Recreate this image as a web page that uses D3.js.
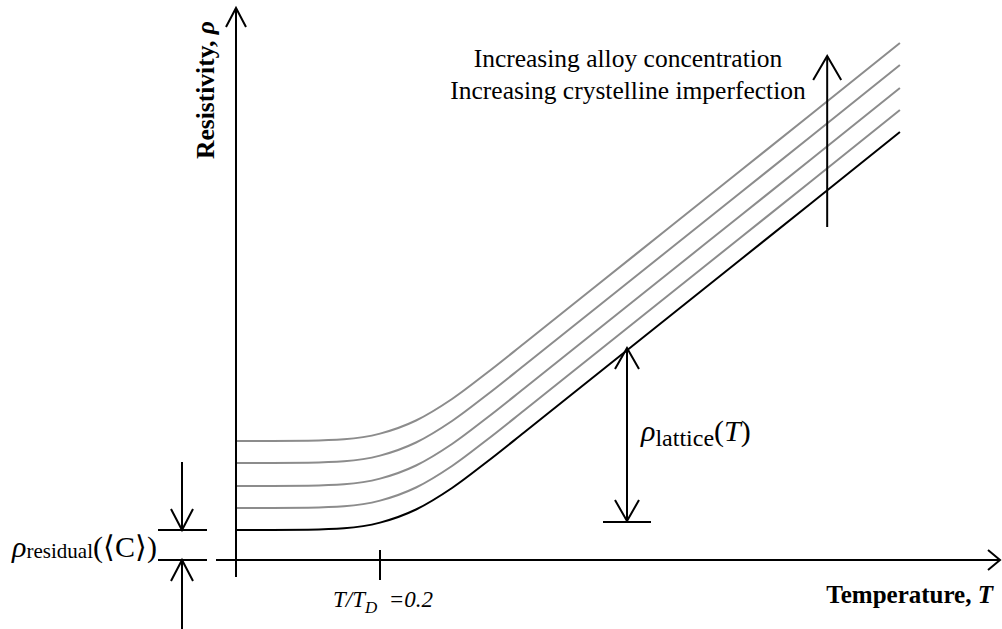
<!DOCTYPE html>
<html>
<head>
<meta charset="utf-8">
<script src="https://cdn.jsdelivr.net/npm/d3@7/dist/d3.min.js"></script>
<style>
  html, body { margin: 0; padding: 0; background: #fff; }
  svg { display: block; }
  text { font-family: "Liberation Serif", "Times New Roman", serif; fill: #000; }
</style>
</head>
<body>
<svg id="chart" width="1002" height="629"></svg>
<script>
// ---- data ----
const tRatio   = [0, 0.05, 0.1, 0.15, 0.2, 0.25, 0.3, 0.35, 0.4, 0.5, 0.6, 0.7, 0.8, 0.922];
const rhoPure   = [3.0, 3.0, 3.03, 3.17, 3.74, 5.05, 7.2, 9.9, 12.75, 18.5, 24.25, 30.0, 35.75, 42.8];
const rhoAlloy1 = [5.2, 5.2, 5.23, 5.37, 5.94, 7.25, 9.4, 12.1, 14.95, 20.7, 26.45, 32.2, 37.95, 45.0];
const rhoAlloy2 = [7.4, 7.4, 7.43, 7.57, 8.14, 9.45, 11.6, 14.3, 17.15, 22.9, 28.65, 34.4, 40.15, 47.2];
const rhoAlloy3 = [9.7, 9.7, 9.73, 9.87, 10.44, 11.75, 13.9, 16.6, 19.45, 25.2, 30.95, 36.7, 42.45, 49.5];
const rhoAlloy4 = [11.9, 11.9, 11.93, 12.07, 12.64, 13.95, 16.1, 18.8, 21.65, 27.4, 33.15, 38.9, 44.65, 51.7];
const tickValues = [0.2];
const tickLabel = "0.2";

// ---- scales ----
const svg = d3.select("#chart");
const x = d3.scaleLinear().domain([0, 1.061]).range([236, 1000]);
const y = d3.scaleLinear().domain([0, 55.2]).range([560, 8]);

const line = d3.line().x(d => x(d[0])).y(d => y(d[1])).curve(d3.curveMonotoneX);

const series = [
  { vals: rhoAlloy4, color: "#8c8c8c" },
  { vals: rhoAlloy3, color: "#8c8c8c" },
  { vals: rhoAlloy2, color: "#8c8c8c" },
  { vals: rhoAlloy1, color: "#8c8c8c" },
  { vals: rhoPure,   color: "#000000" }
];

svg.selectAll("path.curve").data(series).enter().append("path")
  .attr("class", "curve")
  .attr("d", s => line(tRatio.map((t, i) => [t, s.vals[i]])))
  .attr("fill", "none")
  .attr("stroke", s => s.color)
  .attr("stroke-width", 2);

// ---- axes ----
const ax = svg.append("g").attr("stroke", "#000").attr("stroke-width", 2).attr("fill", "none");
// x axis
ax.append("line").attr("x1", x(0) - 20).attr("y1", y(0)).attr("x2", x.range()[1]).attr("y2", y(0));
ax.append("path").attr("d", `M${x.range()[1]-12},${y(0)-10} L${x.range()[1]},${y(0)} L${x.range()[1]-12},${y(0)+10}`);
// y axis
ax.append("line").attr("x1", x(0)).attr("y1", y(0) + 17).attr("x2", x(0)).attr("y2", y.range()[1]);
ax.append("path").attr("d", `M${x(0)-10},${y.range()[1]+19} L${x(0)},${y.range()[1]} L${x(0)+10},${y.range()[1]+19}`);
// tick
ax.selectAll("line.tick").data(tickValues).enter().append("line").attr("class", "tick")
  .attr("x1", d => x(d)).attr("x2", d => x(d)).attr("y1", y(0) - 10).attr("y2", y(0) + 20);

// tick label T/T_D =0.2
const tl = svg.append("text").attr("x", x(tickValues[0]) + 3).attr("y", 607)
  .attr("text-anchor", "middle").attr("font-size", 23).attr("font-style", "italic");
tl.append("tspan").text("T/T");
tl.append("tspan").attr("font-size", 17).attr("dy", 6).text("D");
tl.append("tspan").attr("dy", -6).text("\u00a0 =" + tickLabel);

// axis titles
const xt = svg.append("text").attr("x", 993).attr("y", 603).attr("text-anchor", "end")
  .attr("font-size", 25).attr("font-weight", "bold");
xt.append("tspan").text("Temperature, ");
xt.append("tspan").attr("font-style", "italic").text("T");

const yt = svg.append("text").attr("transform", "translate(214,90) rotate(-90)")
  .attr("text-anchor", "middle").attr("font-size", 25.5).attr("font-weight", "bold");
yt.append("tspan").text("Resistivity, ");
yt.append("tspan").attr("font-style", "italic").text("ρ");

// ---- annotation: increasing arrow ----
const an = svg.append("g").attr("stroke", "#000").attr("stroke-width", 2).attr("fill", "none");
const ax1 = x(0.821), yTop = y(50.4), yBot = y(33.3);
an.append("line").attr("x1", ax1).attr("x2", ax1).attr("y1", yBot).attr("y2", yTop);
an.append("path").attr("d", `M${ax1-14},${yTop+24} L${ax1},${yTop} L${ax1+14},${yTop+24}`);

svg.append("text").attr("x", 628).attr("y", 67).attr("text-anchor", "middle").attr("font-size", 25.5)
  .text("Increasing alloy concentration");
svg.append("text").attr("x", 628).attr("y", 99).attr("text-anchor", "middle").attr("font-size", 25.5)
  .text("Increasing crystelline imperfection");

// ---- annotation: lattice arrow ----
const lx = x(0.543), lTop = y(21.2), lBot = y(3.9);
an.append("line").attr("x1", lx).attr("x2", lx).attr("y1", lTop).attr("y2", lBot);
an.append("path").attr("d", `M${lx-12},${lTop+21} L${lx},${lTop} L${lx+12},${lTop+21}`);
an.append("path").attr("d", `M${lx-12},${lBot-21} L${lx},${lBot} L${lx+12},${lBot-21}`);
an.append("line").attr("x1", lx - 24).attr("x2", lx + 24).attr("y1", lBot + 1).attr("y2", lBot + 1);

const lt = svg.append("text").attr("x", 641).attr("y", 441).attr("font-size", 30);
lt.append("tspan").attr("font-style", "italic").text("ρ");
lt.append("tspan").attr("font-size", 24).attr("dy", 5).text("lattice");
lt.append("tspan").attr("dy", -5).text("(");
lt.append("tspan").attr("font-style", "italic").text("T");
lt.append("tspan").text(")");

// ---- annotation: residual bracket ----
const rx = 182, rTop = y(3.0), rBot = y(0);
an.append("line").attr("x1", rx - 24).attr("x2", rx + 25).attr("y1", rTop).attr("y2", rTop);
an.append("line").attr("x1", rx - 24).attr("x2", rx + 25).attr("y1", rBot).attr("y2", rBot);
an.append("line").attr("x1", rx).attr("x2", rx).attr("y1", 462).attr("y2", rTop);
an.append("path").attr("d", `M${rx-11},${rTop-21} L${rx},${rTop} L${rx+11},${rTop-21}`);
an.append("line").attr("x1", rx).attr("x2", rx).attr("y1", 629).attr("y2", rBot);
an.append("path").attr("d", `M${rx-11},${rBot+21} L${rx},${rBot} L${rx+11},${rBot+21}`);

const rt = svg.append("text").attr("x", 157).attr("y", 557).attr("text-anchor", "end").attr("font-size", 30);
rt.append("tspan").attr("font-style", "italic").text("ρ");
rt.append("tspan").attr("font-size", 21).attr("dy", 1).text("residual");
rt.append("tspan").attr("dy", -1).text("(\u27E8C\u27E9)");
</script>
</body>
</html>
